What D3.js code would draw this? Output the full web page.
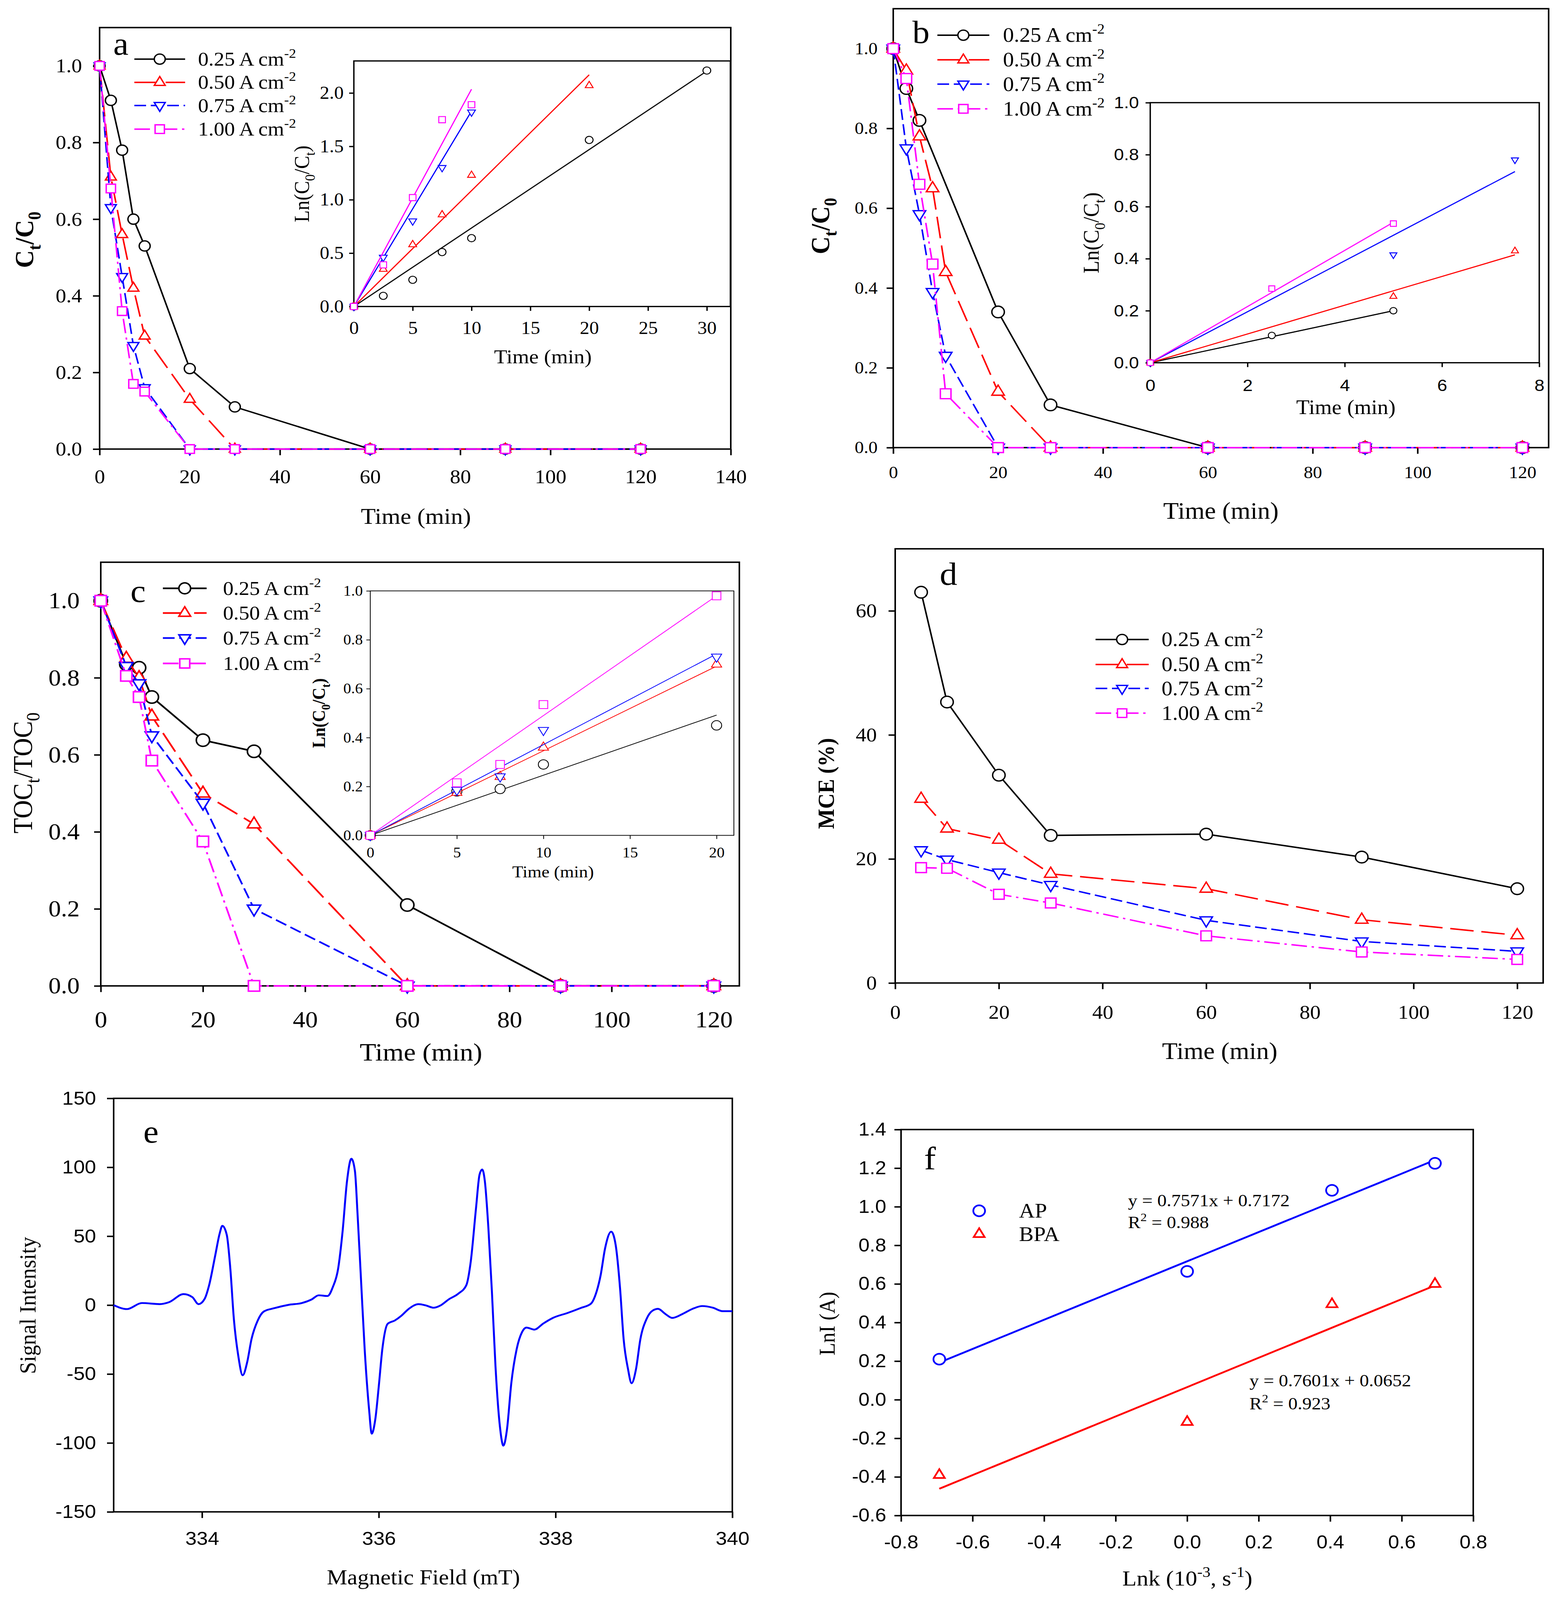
<!DOCTYPE html>
<html>
<head>
<meta charset="utf-8">
<script src="https://cdn.jsdelivr.net/npm/d3@7"></script>
<style>
  html, body { margin: 0; padding: 0; height: 100%; overflow: hidden; background: #fff; }
  svg { display: block; width: 100vw; height: 100vh; }
</style>
</head>
<body>
<svg id="fig" viewBox="0 0 3989 4411" preserveAspectRatio="none"></svg>
<script>
// ---------- data ----------
var seriesNames = ["0.25", "0.50", "0.75", "1.00"];

// (a) Ct/C0 vs time
var timeA = [0, 2.5, 5, 7.5, 10, 20, 30, 60, 90, 120];
var a025 = [1, 0.91, 0.78, 0.60, 0.53, 0.21, 0.11, 0, 0, 0];
var a050 = [1, 0.71, 0.56, 0.42, 0.295, 0.13, 0, 0, 0, 0];
var a075 = [1, 0.63, 0.45, 0.27, 0.16, 0, 0, 0, 0, 0];
var a100 = [1, 0.68, 0.36, 0.17, 0.15, 0, 0, 0, 0, 0];
// (a) inset ln(C0/Ct)
var insetTimeA = [0, 2.5, 5, 7.5, 10, 20, 30];
var insetA025 = [0, 0.10, 0.25, 0.51, 0.64, 1.56, 2.21];
var insetA050 = [0, 0.35, 0.58, 0.86, 1.23, 2.07];
var insetA075 = [0, 0.46, 0.80, 1.30, 1.82];
var insetA100 = [0, 0.39, 1.02, 1.75, 1.89];
var insetSlopeA = [0.0735, 0.1085, 0.183, 0.2035];

// (b)
var timeB025 = [0, 2.5, 5, 20, 30, 60, 90, 120];
var timeB = [0, 2.5, 5, 7.5, 10, 20, 30, 60, 90, 120];
var b025 = [1, 0.90, 0.82, 0.34, 0.107, 0, 0, 0];
var b050 = [1, 0.945, 0.78, 0.65, 0.44, 0.14, 0, 0, 0, 0];
var b075 = [1, 0.75, 0.585, 0.39, 0.23, 0, 0, 0, 0, 0];
var b100 = [1, 0.925, 0.66, 0.46, 0.135, 0, 0, 0, 0, 0];
var insetTimeB025 = [0, 2.5, 5];
var insetB025 = [0, 0.105, 0.20];
var insetTimeB050 = [0, 5, 7.5];
var insetB050 = [0, 0.255, 0.43];
var insetTimeB075 = [0, 5, 7.5];
var insetB075 = [0, 0.415, 0.78];
var insetTimeB100 = [0, 2.5, 5];
var insetB100 = [0, 0.285, 0.535];
var insetSlopeB = [0.04, 0.0553, 0.098, 0.108];

// (c) TOC
var timeC = [0, 5, 7.5, 10, 20, 30, 60, 90, 120];
var c025 = [1, 0.835, 0.826, 0.75, 0.638, 0.609, 0.21, 0, 0];
var c050 = [1, 0.85, 0.80, 0.70, 0.50, 0.42, 0, 0, 0];
var c075 = [1, 0.83, 0.785, 0.65, 0.475, 0.20, 0, 0, 0];
var c100 = [1, 0.805, 0.75, 0.585, 0.375, 0, 0, 0, 0];
var insetTimeC = [0, 5, 7.5, 10, 20];
var insetC025 = [0, 0.18, 0.19, 0.29, 0.45];
var insetC050 = [0, 0.175, 0.24, 0.36, 0.70];
var insetC075 = [0, 0.185, 0.24, 0.43, 0.73];
var insetC100 = [0, 0.215, 0.29, 0.535, 0.98];
var insetSlopeC = [0.0246, 0.0346, 0.0371, 0.049];

// (d) MCE
var timeD = [5, 10, 20, 30, 60, 90, 120];
var d025 = [63, 45.3, 33.5, 23.8, 24, 20.3, 15.2];
var d050 = [29.7, 24.9, 23.1, 17.6, 15.2, 10.2, 7.7];
var d075 = [21.4, 19.9, 17.8, 15.8, 10.1, 6.7, 5.1];
var d100 = [18.6, 18.5, 14.3, 12.9, 7.6, 5.0, 3.8];

// (e) EPR spectrum
var fieldE = [333.0, 333.15, 333.32, 333.52, 333.63, 333.79, 333.89, 333.96, 334.03, 334.08,
  334.15, 334.20, 334.23, 334.28, 334.32, 334.36, 334.41, 334.46, 334.51, 334.56,
  334.63, 334.70, 334.82, 334.98, 335.13, 335.24, 335.32, 335.42, 335.48, 335.54,
  335.59, 335.64, 335.69, 335.73, 335.76, 335.80, 335.84, 335.89, 335.92, 335.96,
  336.00, 336.04, 336.10, 336.18, 336.25, 336.34, 336.45, 336.53, 336.62, 336.70,
  336.79, 336.90, 336.99, 337.04, 337.10, 337.14, 337.17, 337.20, 337.24, 337.28,
  337.32, 337.37, 337.41, 337.45, 337.50, 337.56, 337.62, 337.67, 337.76, 337.86,
  337.97, 338.14, 338.28, 338.40, 338.45, 338.51, 338.56, 338.63, 338.68, 338.73,
  338.77, 338.82, 338.86, 338.91, 338.96, 339.03, 339.10, 339.16, 339.24, 339.32,
  339.44, 339.55, 339.66, 339.78, 339.89, 340.0];
var signalE = [0, -2.9, 1.5, 0.7, 2.2, 8.0, 5.8, 0.7, 4.6, 14.4,
  36.3, 52.1, 57.5, 50.9, 26.5, -10, -36.8, -50.9, -41.6, -24.6,
  -11.2, -4.6, -2.2, 0.2, 1.5, 4.1, 7.1, 6.6, 13.1, 26.5,
  53.3, 89.8, 106.2, 97.2, 65.5, 16.8, -31.9, -75.7, -93.3, -83.0,
  -58.7, -31.9, -13.6, -11.2, -8.0, -2.7, 0.7, -0.2, -1.9, -0.2,
  4.1, 8.3, 14.4, 31.4, 70.4, 94.7, 98.4, 89.8, 55.8, 9.5,
  -44.1, -87.9, -102.0, -90.3, -56.2, -31.9, -19.7, -16.3, -17.8, -13.4,
  -9.3, -5.6, -2.2, 1.0, 7.1, 21.7, 41.1, 53.3, 43.6, 11.9,
  -24.6, -46.5, -56.7, -46.5, -24.6, -10.0, -3.9, -2.7, -6.3, -9.3,
  -6.3, -2.7, -0.7, -1.9, -4.4, -4.4];

// (f) LnI vs Lnk
var lnk = [-0.693, 0, 0.405, 0.693];
var lnIAP = [0.21, 0.665, 1.085, 1.225];
var lnIBPA = [-0.39, -0.115, 0.495, 0.60];
var fitAP = [0.7571, 0.7172];
var fitBPA = [0.7601, 0.0652];

// ---------- styles ----------
var colors = ["#000000", "#ff0000", "#0000ff", "#ff00ff"];
var dashes = ["none", "60,20", "30,12", "40,12,6,12"];
var shapes = ["circle", "up", "down", "square"];
var serif = "'Liberation Serif', 'Times New Roman', serif";
var sans = "'Liberation Sans', Arial, sans-serif";

var svg = d3.select("#fig");
svg.append("rect").attr("width", 3989).attr("height", 4411).attr("fill", "#fff");

function fmt1(d) { return d.toFixed(1); }
function fmt0(d) { return String(d); }

// axes + frame for one plot box
function panel(b) {
    var g = svg.append("g");
    var x = d3.scaleLinear().domain(b.xDom).range([b.left, b.right]);
    var y = d3.scaleLinear().domain(b.yDom).range([b.bottom, b.top]);
    if (b.fill) {
        g.append("rect").attr("x", b.left).attr("y", b.top)
            .attr("width", b.right - b.left).attr("height", b.bottom - b.top).attr("fill", "#fff");
    }
    var xa = g.append("g").attr("transform", "translate(0," + b.bottom + ")")
        .call(d3.axisBottom(x).tickValues(b.xTicks).tickFormat(b.xFmt)
            .tickSize(b.tick).tickSizeOuter(0).tickPadding(b.xLab - 0.37 * b.fs - b.tick));
    var ya = g.append("g").attr("transform", "translate(" + b.left + ",0)")
        .call(d3.axisLeft(y).tickValues(b.yTicks).tickFormat(b.yFmt)
            .tickSize(b.tick).tickSizeOuter(0).tickPadding(b.yLab - b.tick));
    [xa, ya].forEach(function(a) {
        a.select(".domain").remove();
        a.selectAll("line").attr("stroke", "#000").attr("stroke-width", b.sw);
        a.selectAll("text").attr("font-family", b.font).attr("font-size", b.fs).attr("fill", "#000");
    });
    g.append("rect").attr("x", b.left).attr("y", b.top)
        .attr("width", b.right - b.left).attr("height", b.bottom - b.top)
        .attr("fill", "none").attr("stroke", "#000").attr("stroke-width", b.sw);
    return {g: g, x: x, y: y};
}

// text with sub/superscripts, parts = [[str, ""|"sub"|"sup"], ...]
function rich(t, parts, fs) {
    var shift = 0;
    parts.forEach(function(p) {
        var target = p[1] == "sub" ? fs * 0.28 : (p[1] == "sup" ? -fs * 0.4 : 0);
        var s = t.append("tspan").text(p[0]).attr("dy", target - shift);
        if (p[1]) s.attr("font-size", fs * 0.68);
        shift = target;
    });
    return t;
}

function hText(x, y, parts, fs, opts) {
    opts = opts || {};
    var t = svg.append("text").attr("x", x).attr("y", y)
        .attr("font-family", opts.font || serif).attr("font-size", fs)
        .attr("font-weight", opts.bold ? "bold" : "normal")
        .attr("text-anchor", opts.anchor || "start").attr("fill", "#000");
    return rich(t, parts, fs);
}

function vText(cx, cy, parts, fs, opts) {
    opts = opts || {};
    var t = svg.append("text")
        .attr("transform", "translate(" + (cx + 0.35 * fs) + "," + cy + ") rotate(-90)")
        .attr("font-family", opts.font || serif).attr("font-size", fs)
        .attr("font-weight", opts.bold ? "bold" : "normal")
        .attr("text-anchor", "middle").attr("fill", "#000");
    return rich(t, parts, fs);
}

function markerPath(type, r) {
    if (type == "circle") return "M" + r + ",0A" + r + "," + r + " 0 1 1 " + (-r) + ",0A" + r + "," + r + " 0 1 1 " + r + ",0Z";
    if (type == "up") return "M0," + (-1.15 * r) + "L" + r + "," + (0.6 * r) + "L" + (-r) + "," + (0.6 * r) + "Z";
    if (type == "down") return "M0," + (1.15 * r) + "L" + r + "," + (-0.6 * r) + "L" + (-r) + "," + (-0.6 * r) + "Z";
    var h = 0.85 * r;
    return "M" + (-h) + "," + (-h) + "h" + (2 * h) + "v" + (2 * h) + "h" + (-2 * h) + "Z";
}

function markers(p, xs, ys, color, type, r, sw) {
    var pts = xs.map(function(t, i) { return [t, ys[i]]; });
    p.g.append("g").selectAll("path").data(pts).join("path")
        .attr("transform", function(d) { return "translate(" + p.x(d[0]) + "," + p.y(d[1]) + ")"; })
        .attr("d", markerPath(type, r))
        .attr("fill", "#fff").attr("stroke", color).attr("stroke-width", sw);
}

function series(p, xs, ys, i, r, sw) {
    var line = d3.line().x(function(d) { return p.x(d[0]); }).y(function(d) { return p.y(d[1]); });
    var pts = xs.map(function(t, k) { return [t, ys[k]]; });
    p.g.append("path").attr("d", line(pts)).attr("fill", "none")
        .attr("stroke", colors[i]).attr("stroke-width", sw).attr("stroke-dasharray", dashes[i]);
    markers(p, xs, ys, colors[i], shapes[i], r, sw * 0.9);
}

function fitLine(p, x0, x1, slope, icpt, color, sw) {
    p.g.append("line")
        .attr("x1", p.x(x0)).attr("y1", p.y(slope * x0 + icpt))
        .attr("x2", p.x(x1)).attr("y2", p.y(slope * x1 + icpt))
        .attr("stroke", color).attr("stroke-width", sw);
}

function legend(x1, x2, xt, rows, fs, r, sw) {
    var g = svg.append("g");
    rows.forEach(function(yy, i) {
        g.append("line").attr("x1", x1).attr("x2", x2).attr("y1", yy).attr("y2", yy)
            .attr("stroke", colors[i]).attr("stroke-width", sw).attr("stroke-dasharray", dashes[i] == "none" ? null : dashes[i]);
        g.append("path").attr("transform", "translate(" + ((x1 + x2) / 2) + "," + yy + ")")
            .attr("d", markerPath(shapes[i], r)).attr("fill", "#fff")
            .attr("stroke", colors[i]).attr("stroke-width", sw * 0.9);
        hText(xt, yy + 0.33 * fs, [[seriesNames[i] + " A cm", ""], ["-2", "sup"]], fs);
    });
}

var ctParts = [["C", ""], ["t", "sub"], ["/C", ""], ["0", "sub"]];
var lnParts = [["Ln(C", ""], ["0", "sub"], ["/C", ""], ["t", "sub"], [")", ""]];

// ================= (a) =================
var pa = panel({left: 255, right: 1871, top: 76, bottom: 1238, xDom: [0, 140], yDom: [0, 1.1],
    xTicks: d3.range(0, 141, 20), yTicks: [0, 0.2, 0.4, 0.6, 0.8, 1.0], xFmt: fmt0, yFmt: fmt1,
    font: serif, fs: 54, tick: 17, xLab: 76, yLab: 45, sw: 4});
series(pa, timeA, a025, 0, 14, 4);
series(pa, timeA, a050, 1, 14, 4);
series(pa, timeA, a075, 2, 14, 4);
series(pa, timeA, a100, 3, 14, 4);
hText(1065, 1444, [["Time (min)", ""]], 62, {anchor: "middle"});
vText(61, 661, ctParts, 68, {bold: true});
hText(290, 151, [["a", ""]], 88);
legend(344, 474, 507, [163, 227, 291, 356], 54, 14, 4);

var pai = panel({left: 906, right: 1870, top: 168, bottom: 845, xDom: [0, 32], yDom: [0, 2.3],
    xTicks: d3.range(0, 31, 5), yTicks: [0, 0.5, 1.0, 1.5, 2.0], xFmt: fmt0, yFmt: fmt1,
    font: serif, fs: 49, tick: 12, xLab: 59, yLab: 26, sw: 3.5, fill: true});
[insetA025, insetA050, insetA075, insetA100].forEach(function(v, i) {
    var ts = insetTimeA.slice(0, v.length);
    fitLine(pai, 0, ts[ts.length - 1], insetSlopeA[i], 0, colors[i], 3);
    markers(pai, ts, v, colors[i], shapes[i], 10, 2.5);
});
hText(1390, 1002, [["Time (min)", ""]], 55, {anchor: "middle"});
vText(772, 507, lnParts, 54);

// ================= (b) =================
var pb = panel({left: 2287, right: 3965, top: 24, bottom: 1234, xDom: [0, 125], yDom: [0, 1.1],
    xTicks: d3.range(0, 121, 20), yTicks: [0, 0.2, 0.4, 0.6, 0.8, 1.0], xFmt: fmt0, yFmt: fmt1,
    font: serif, fs: 47, tick: 17, xLab: 68, yLab: 40, sw: 4});
series(pb, timeB025, b025, 0, 16, 4);
series(pb, timeB, b050, 1, 16, 4);
series(pb, timeB, b075, 2, 16, 4);
series(pb, timeB, b100, 3, 16, 4);
hText(3126, 1430, [["Time (min)", ""]], 65, {anchor: "middle"});
vText(2099, 623, ctParts, 68, {bold: true});
hText(2336, 118, [["b", ""]], 88);
legend(2400, 2533, 2568, [97, 165, 232, 300], 56, 14, 4);

var pbi = panel({left: 2945, right: 3941, top: 283, bottom: 1000, xDom: [0, 8], yDom: [0, 1],
    xTicks: [0, 2, 4, 6, 8], yTicks: [0, 0.2, 0.4, 0.6, 0.8, 1.0], xFmt: fmt0, yFmt: fmt1,
    font: sans, fs: 46, tick: 12, xLab: 62, yLab: 29, sw: 3.5, fill: true});
[[insetTimeB025, insetB025], [insetTimeB050, insetB050], [insetTimeB075, insetB075], [insetTimeB100, insetB100]]
    .forEach(function(s, i) {
        fitLine(pbi, 0, s[0][s[0].length - 1], insetSlopeB[i], 0, colors[i], 3);
        markers(pbi, s[0], s[1], colors[i], shapes[i], 9, 2.5);
    });
hText(3446, 1142, [["Time (min)", ""]], 56, {anchor: "middle"});
vText(2793, 642, lnParts, 57);

// ================= (c) =================
var pc = panel({left: 258, right: 1893, top: 1550, bottom: 2718, xDom: [0, 125], yDom: [0, 1.1],
    xTicks: d3.range(0, 121, 20), yTicks: [0, 0.2, 0.4, 0.6, 0.8, 1.0], xFmt: fmt0, yFmt: fmt1,
    font: serif, fs: 64, tick: 17, xLab: 93, yLab: 54, sw: 4});
series(pc, timeC, c025, 0, 17, 4.5);
series(pc, timeC, c050, 1, 17, 4.5);
series(pc, timeC, c075, 2, 17, 4.5);
series(pc, timeC, c100, 3, 17, 4.5);
hText(1078, 2924, [["Time (min)", ""]], 69, {anchor: "middle"});
vText(57, 2131, [["TOC", ""], ["t", "sub"], ["/TOC", ""], ["0", "sub"]], 70);
hText(334, 1659, [["c", ""]], 88);
legend(417, 529, 571, [1622, 1690, 1759, 1829], 54, 15, 4.5);

var pci = panel({left: 948, right: 1879, top: 1629, bottom: 2303, xDom: [0, 21], yDom: [0, 1],
    xTicks: [0, 5, 10, 15, 20], yTicks: [0, 0.2, 0.4, 0.6, 0.8, 1.0], xFmt: fmt0, yFmt: fmt1,
    font: serif, fs: 40, tick: 10, xLab: 47, yLab: 19, sw: 2, fill: true});
[insetC025, insetC050, insetC075, insetC100].forEach(function(v, i) {
    fitLine(pci, 0, 20, insetSlopeC[i], 0, colors[i], 2);
    markers(pci, insetTimeC, v, colors[i], shapes[i], 13, 2.2);
});
hText(1416, 2419, [["Time (min)", ""]], 46, {anchor: "middle"});
vText(816, 1966, lnParts, 46, {bold: true});

// ================= (d) =================
var pd = panel({left: 2292, right: 3951, top: 1513, bottom: 2710, xDom: [0, 125], yDom: [0, 70],
    xTicks: d3.range(0, 121, 20), yTicks: [0, 20, 40, 60], xFmt: fmt0, yFmt: fmt0,
    font: serif, fs: 54, tick: 17, xLab: 80, yLab: 47, sw: 4});
series(pd, timeD, d025, 0, 16, 4);
series(pd, timeD, d050, 1, 16, 4);
series(pd, timeD, d075, 2, 16, 4);
series(pd, timeD, d100, 3, 16, 4);
hText(3123, 2919, [["Time (min)", ""]], 65, {anchor: "middle"});
vText(2114, 2160, [["MCE (%)", ""]], 59, {bold: true});
hText(2406, 1612, [["d", ""]], 90);
legend(2805, 2941, 2974, [1763, 1832, 1898, 1966], 56, 14, 4);

// ================= (e) =================
var pe = panel({left: 291, right: 1875, top: 3028, bottom: 4168, xDom: [333, 340], yDom: [-150, 150],
    xTicks: [334, 336, 338, 340], yTicks: d3.range(-150, 151, 50), xFmt: fmt0, yFmt: fmt0,
    font: sans, fs: 52, tick: 17, xLab: 74, yLab: 45, sw: 4});
var eprLine = d3.line().curve(d3.curveMonotoneX)
    .x(function(d, i) { return pe.x(fieldE[i]); })
    .y(function(d) { return pe.y(d); });
pe.g.append("path").attr("d", eprLine(signalE)).attr("fill", "none")
    .attr("stroke", "#0000ff").attr("stroke-width", 5);
hText(1084, 4368, [["Magnetic Field (mT)", ""]], 59, {anchor: "middle"});
vText(70, 3599, [["Signal Intensity", ""]], 60);
hText(367, 3150, [["e", ""]], 88);

// ================= (f) =================
var pf = panel({left: 2307, right: 3772, top: 3114, bottom: 4178, xDom: [-0.8, 0.8], yDom: [-0.6, 1.4],
    xTicks: d3.range(-8, 9, 2).map(function(v) { return v / 10; }),
    yTicks: d3.range(-6, 15, 2).map(function(v) { return v / 10; }), xFmt: fmt1, yFmt: fmt1,
    font: sans, fs: 51, tick: 17, xLab: 73, yLab: 38, sw: 4});
fitLine(pf, lnk[0], lnk[3], fitAP[0], fitAP[1], "#0000ff", 5);
fitLine(pf, lnk[0], lnk[3], fitBPA[0], fitBPA[1], "#ff0000", 5);
markers(pf, lnk, lnIAP, "#0000ff", "circle", 15, 4.5);
markers(pf, lnk, lnIBPA, "#ff0000", "up", 14, 4.5);
hText(3040, 4371, [["Lnk (10", ""], ["-3", "sup"], [", s", ""], ["-1", "sup"], [")", ""]], 60, {anchor: "middle"});
vText(2117, 3649, [["LnI (A)", ""]], 57);
hText(2366, 3224, [["f", ""]], 90);
svg.append("path").attr("transform", "translate(2507,3338)").attr("d", markerPath("circle", 15))
    .attr("fill", "none").attr("stroke", "#0000ff").attr("stroke-width", 4.5);
svg.append("path").attr("transform", "translate(2507,3402)").attr("d", markerPath("up", 14))
    .attr("fill", "none").attr("stroke", "#ff0000").attr("stroke-width", 4.5);
hText(2609, 3357, [["AP", ""]], 56);
hText(2609, 3421, [["BPA", ""]], 56);
hText(2888, 3326, [["y = " + fitAP[0] + "x + " + fitAP[1], ""]], 48);
hText(2888, 3386, [["R", ""], ["2", "sup"], [" = 0.988", ""]], 48);
hText(3199, 3822, [["y = " + fitBPA[0] + "x + " + fitBPA[1], ""]], 48);
hText(3199, 3885, [["R", ""], ["2", "sup"], [" = 0.923", ""]], 48);
</script>
</body>
</html>
